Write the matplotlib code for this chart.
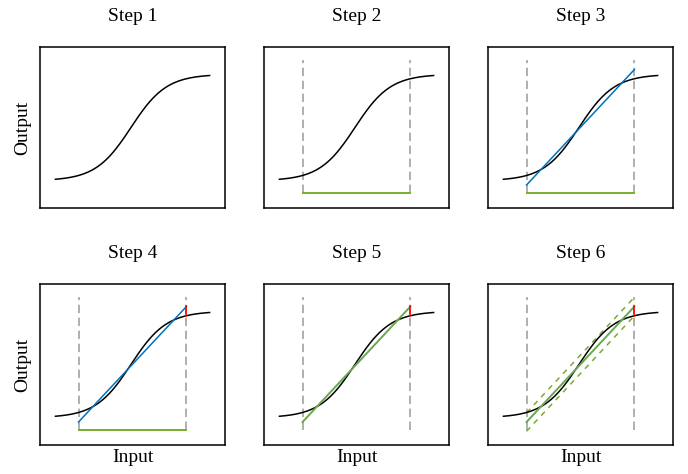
import numpy as np
import matplotlib.pyplot as plt

plt.rcParams['font.family'] = ['Liberation Serif', 'DejaVu Serif']

# curva di risposta (logistica) e retta di linearizzazione
x_curva = np.linspace(-5, 5, 200)
pendenza = 0.87
centro = -0.1
y_curva = 1 / (1 + np.exp(-pendenza * (x_curva - centro)))

x_range = [-3.5, 3.5]          # intervallo di lavoro
y_retta = [-0.04, 1.045]       # retta ai due estremi dell'intervallo
y_base = -0.115                # quota della barra dell'intervallo
y_top = 1.135                  # sommità delle linee tratteggiate

titoli = ['Step 1', 'Step 2', 'Step 3', 'Step 4', 'Step 5', 'Step 6']

blu = '#0072BD'
verde = '#77AC30'
verde2 = '#6AA84F'
rosso = '#FF0000'
grigio = '#9a9a9a'

# errore all'estremo destro
y_fine = 1 / (1 + np.exp(-pendenza * (x_range[1] - centro)))
err = y_retta[1] - y_fine

fig = plt.figure(figsize=(6.88, 4.74), dpi=100)
lefts = [40, 264, 488]
tops = [47, 284]
ax = []
for r in range(2):
    for c in range(3):
        a = fig.add_axes([lefts[c] / 688, 1 - (tops[r] + 161) / 474, 185 / 688, 161 / 474])
        ax.append(a)

for i, a in enumerate(ax):
    a.plot(x_curva, y_curva, color='black', lw=1.1, zorder=3)
    if i >= 1:
        for xv in x_range:
            a.plot([xv, xv], [y_base, y_top], color=grigio, lw=1.1,
                   dashes=(5.5, 3), zorder=1)
    if i in (1, 2, 3):
        a.plot(x_range, [y_base, y_base], color=verde, lw=1.4, zorder=2)
    if i in (2, 3):
        a.plot(x_range, y_retta, color=blu, lw=1.1, zorder=4)
    if i in (4, 5):
        a.plot(x_range, y_retta, color=verde2, lw=1.4, zorder=4)
    if i == 5:
        for s in (err, -err):
            a.plot(x_range, [y + s for y in y_retta], color=verde, lw=1.1,
                   dashes=(3.5, 3.5), zorder=2)
    if i >= 3:
        a.plot([x_range[1], x_range[1]], [y_fine, y_retta[1]], color=rosso, lw=1.2, zorder=5)

    a.set_xlim(-6, 6)
    a.set_ylim(-0.256, 1.256)
    a.set_xticks([])
    a.set_yticks([])
    for sp in a.spines.values():
        sp.set_linewidth(1.1)
    a.set_title(titoli[i], fontsize=14, pad=19)

ax[0].set_ylabel('Output', fontsize=14, labelpad=6)
ax[3].set_ylabel('Output', fontsize=14, labelpad=6)
for a in ax[3:]:
    a.set_xlabel('Input', fontsize=14, labelpad=3)

fig.savefig('out.png', dpi=100)
